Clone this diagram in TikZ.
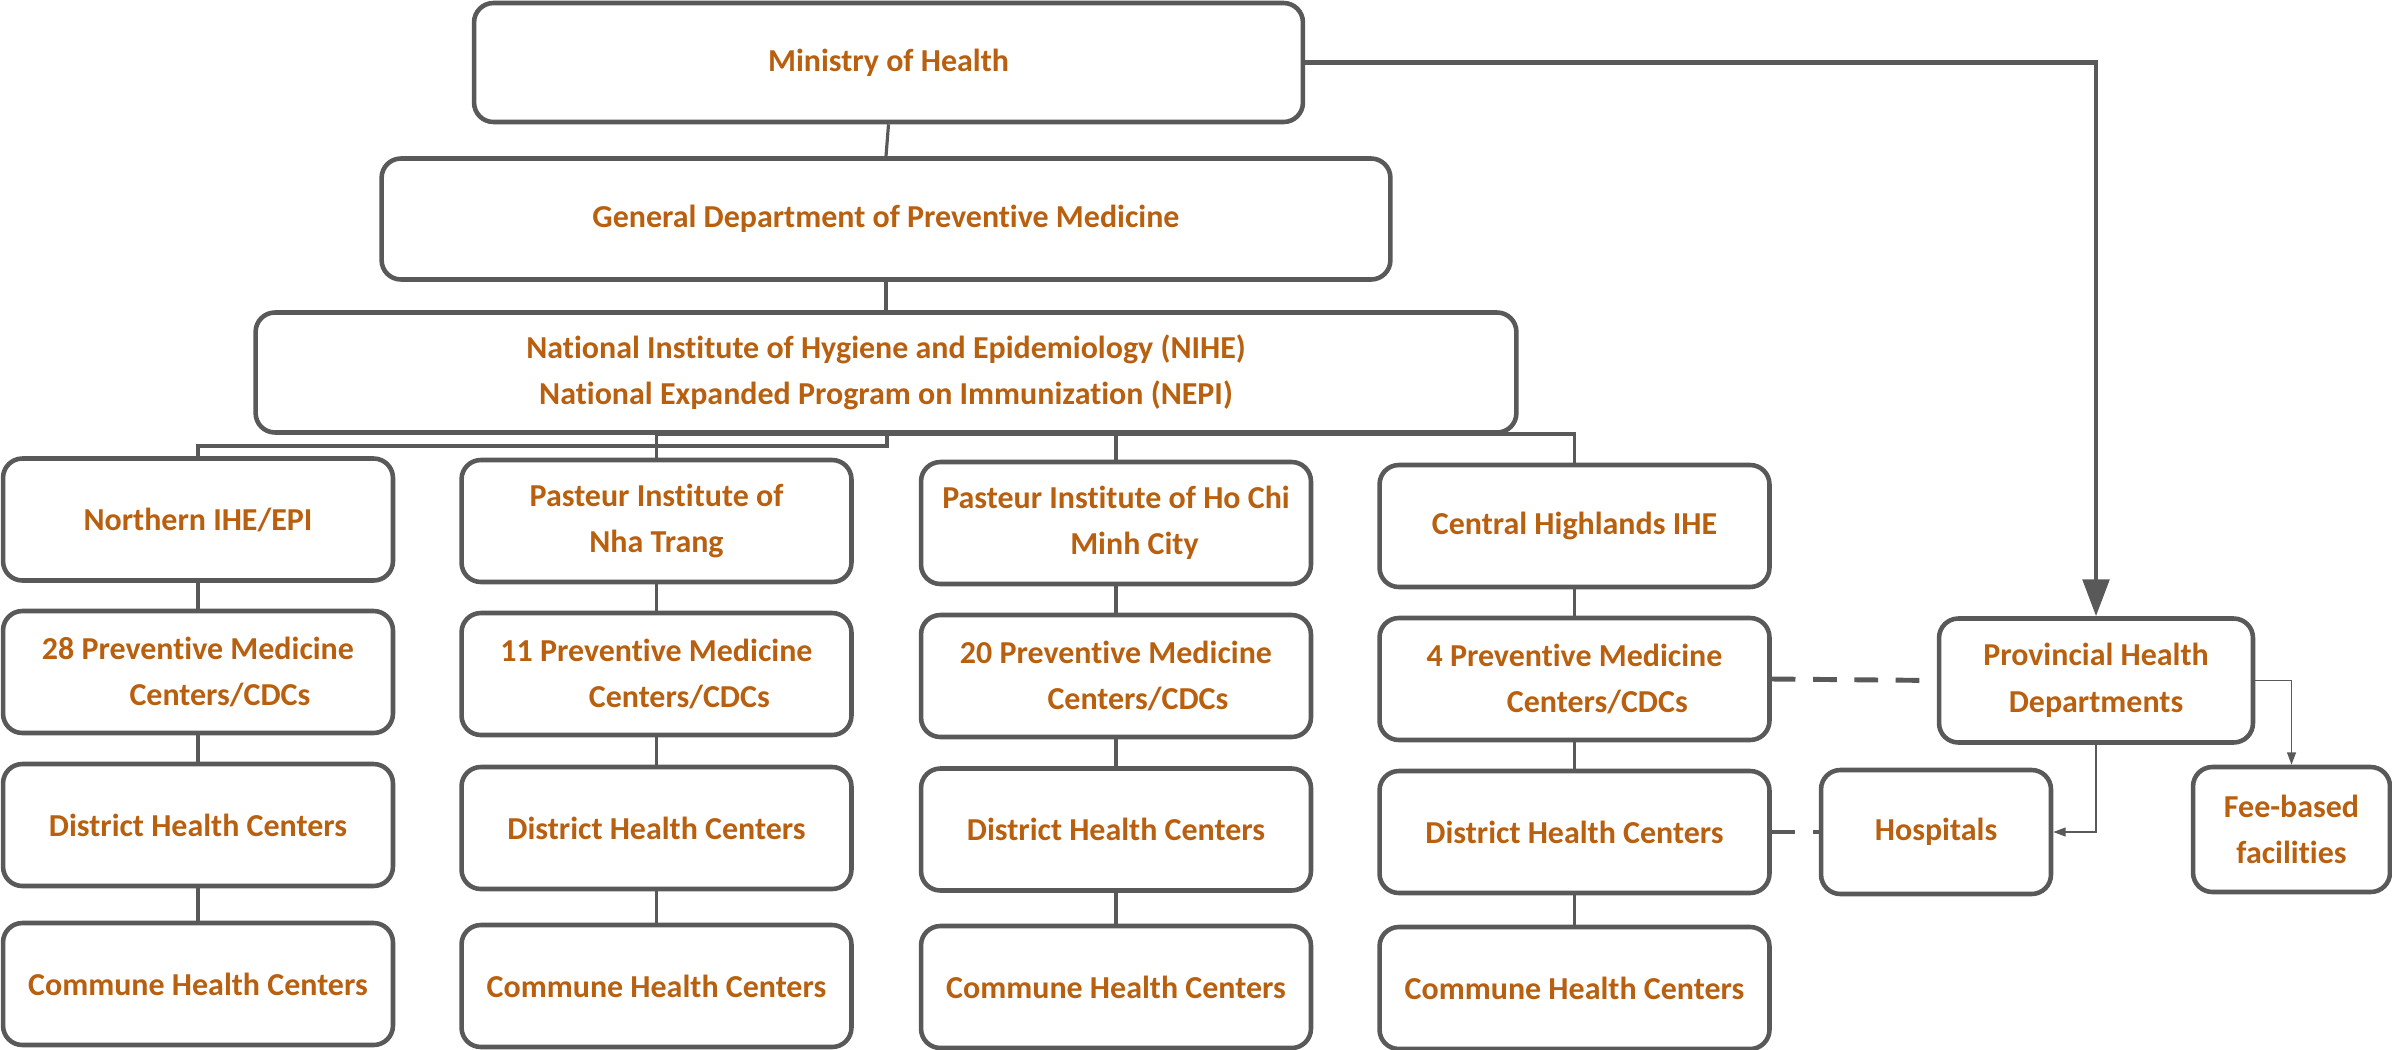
\documentclass[tikz,border=0pt]{standalone}
\usepackage{fontspec}
\setmainfont[Ligatures=NoCommon]{Carlito}
\usetikzlibrary{arrows.meta}
\definecolor{lc}{RGB}{89,89,89}
\definecolor{tc}{RGB}{184,96,15}
\tikzset{
  box/.style={draw=lc, line width=2.6pt, rounded corners=11pt, align=center,
    text=tc, inner sep=0pt, font={\fontsize{18.2}{26.5}\selectfont\bfseries}},
  colbox/.style={box, minimum width=7.8cm, minimum height=2.44cm},
  conn/.style={draw=lc, line width=2pt},
  thinarrow/.style={draw=lc, line width=0.9pt, -{Triangle[length=7pt,width=5pt]}},
  bigarrow/.style={draw=lc, line width=2.6pt, -{Triangle[length=21pt,width=15pt]}},
  dashlink/.style={draw=lc, line width=2.8pt, dash pattern=on 13.5pt off 10pt}
}
\begin{document}
\begin{tikzpicture}[x=0.02cm, y=-0.02cm]
\useasboundingbox (0,0) rectangle (2392,1049);
% top levels
\node[box, minimum width=16.58cm, minimum height=2.38cm] (min) at (888.5,62.5) {Ministry of Health};
\node[box, minimum width=20.18cm, minimum height=2.42cm] (gdpm) at (886,219) {General Department of Preventive Medicine};
\node[box, minimum width=25.22cm, minimum height=2.40cm] (nihe) at (886,372.5) {National Institute of Hygiene and Epidemiology (NIHE)\\National Expanded Program on Immunization (NEPI)};
% column 1
\node[colbox] (c1a) at (198,519.5) {Northern IHE/EPI};
\node[colbox] (c1b) at (198,672) {28 Preventive Medicine\\\hspace*{25pt}Centers/CDCs};
\node[colbox] (c1c) at (198,825) {District Health Centers};
\node[colbox] (c1d) at (198,984) {Commune Health Centers};
% column 2
\node[colbox] (c2a) at (656.5,521) {Pasteur Institute of\\Nha Trang};
\node[colbox] (c2b) at (656.5,674) {11 Preventive Medicine\\\hspace*{26pt}Centers/CDCs};
\node[colbox] (c2c) at (656.5,828) {District Health Centers};
\node[colbox] (c2d) at (656.5,986) {Commune Health Centers};
% column 3
\node[colbox] (c3a) at (1116,523) {Pasteur Institute of Ho Chi\\\hspace*{21pt}Minh City};
\node[colbox] (c3b) at (1116,676) {20 Preventive Medicine\\\hspace*{25pt}Centers/CDCs};
\node[colbox] (c3c) at (1116,829.5) {District Health Centers};
\node[colbox] (c3d) at (1116,987) {Commune Health Centers};
% column 4
\node[colbox] (c4a) at (1574.5,526) {Central Highlands IHE};
\node[colbox] (c4b) at (1574.5,679) {4 Preventive Medicine\\\hspace*{26pt}Centers/CDCs};
\node[colbox] (c4c) at (1574.5,832) {District Health Centers};
\node[colbox] (c4d) at (1574.5,988) {Commune Health Centers};
% right side
\node[box, minimum width=6.28cm, minimum height=2.48cm] (prov) at (2096,680.5) {Provincial Health\\Departments};
\node[box, minimum width=4.60cm, minimum height=2.48cm] (hosp) at (1936,832) {Hospitals};
\node[box, minimum width=3.94cm, minimum height=2.50cm] (fee) at (2291.5,829.5) {Fee-based\\facilities};
% bus coordinates
\coordinate (busA) at (656.5,434);
\coordinate (busB) at (1574.5,434);
\coordinate (busC) at (887,434);
\coordinate (busD) at (887,446);
\coordinate (busE) at (198,446);
\coordinate (busF) at (1116,434);
% connectors
\draw[conn, line width=1.8pt] (min.south) -- (gdpm.north);
\draw[conn, line width=1.8pt] (gdpm.south) -- (nihe.north);
\draw[conn] (c2a.north) -- (busA) -- (busB) -- (c4a.north);
\draw[conn] (busF) -- (c3a.north);
\draw[conn] (busC) -- (busD) -- (busE) -- (c1a.north);
\foreach \c in {c1,c2,c3,c4}{
  \draw[conn] (\c a.south) -- (\c b.north);
  \draw[conn] (\c b.south) -- (\c c.north);
  \draw[conn] (\c c.south) -- (\c d.north);
}
\draw[bigarrow] (min.east) -| (prov.north);
\draw[thinarrow] (prov.south) |- (hosp.east);
\draw[thinarrow] (prov.east) -| (fee.north);
\draw[dashlink] (c4b.east) -- (prov.west);
\draw[dashlink] (c4c.east) -- (hosp.west);
\end{tikzpicture}
\end{document}
